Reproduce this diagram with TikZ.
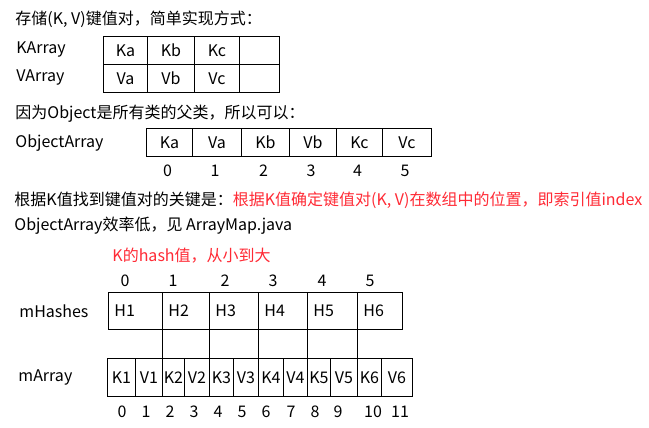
\documentclass[tikz,border=0pt]{standalone}
\usepackage{fontspec}
\setmainfont{Noto Sans CJK SC}
\usetikzlibrary{positioning}
\definecolor{noteRed}{HTML}{FF2A35}
\definecolor{textDark}{HTML}{000000}

\begin{document}
\begin{tikzpicture}[x=1pt, y=-1pt,
    line width=0.9pt,
    txt/.style={anchor=west, inner sep=0pt, font=\fontsize{16}{18}\selectfont\color{textDark}},
    note/.style={txt, text=noteRed},
    cell/.style={draw, anchor=north west, inner sep=0pt,
                 font=\fontsize{16}{18}\selectfont},
    hcell/.style={cell, inner xsep=6pt, align=left},
    idx/.style={inner sep=0pt, font=\fontsize{16}{18}\selectfont},
  ]
    \useasboundingbox (0,0) rectangle (649,428);

    % two parallel arrays
    \node[txt] (title) at (15,19) {存储(K, V)键值对，简单实现方式：};
    \node[txt] (klabel) at (16,50) {KArray};
    \node[txt] (vlabel) at (16,78) {VArray};
    \foreach \x/\w/\k/\v [count=\i] in {103/44/Ka/Va, 147/47/Kb/Vb, 194/45/Kc/Vc, 239/40//} {
      \node[cell, minimum width=\w, minimum height=28] (ka\i) at (\x,36) {\k};
      \node[cell, minimum width=\w, minimum height=28] (va\i) at (\x,64) {\v};
    }

    % one object array
    \node[txt] (why) at (15,114) {因为Object是所有类的父类，所以可以：};
    \node[txt] (olabel) at (15,143) {ObjectArray};
    \foreach \x/\w/\t [count=\i] in {146/46/Ka, 192/49/Va, 241/48/Kb, 289/47/Vb, 336/46/Kc, 382/49/Vc} {
      \node[cell, minimum width=\w, minimum height=28] (o\i) at (\x,128) {\t};
      \pgfmathtruncatemacro{\n}{\i-1}
      \node[idx] (oi\i) at ([xshift=-2pt, yshift=-14pt]o\i.south) {\n};
    }

    \node[txt] (key) at (14,200) {根据K值找到键值对的关键是：\textcolor{noteRed}{根据K值确定键值对(K, V)在数组中的位置，即索引值index}};
    \node[txt] (slow) at (14,226) {ObjectArray效率低，见 ArrayMap.java};
    \node[note] (order) at (112,256) {K的hash值，从小到大};

    % ArrayMap layout
    \node[txt] (hlabel) at (19,311) {mHashes};
    \node[txt] (mlabel) at (18,378) {mArray};
    \foreach \x/\w/\c [count=\i] in {108/54/125, 162/47/173, 209/49/225, 258/49/273, 307/50/322, 357/45/370} {
      \node[hcell, text width=\w-12, minimum height=37] (h\i) at (\x,292) {H\i};
      \pgfmathtruncatemacro{\n}{\i-1}
      \node[idx] (hi\i) at (\c,281) {\n};
    }
    \foreach \x/\w/\t/\c [count=\i] in {107/28/K1/122, 135/27/V1/146, 162/22/K2/170, 184/25/V2/194,
        209/24/K3/218, 233/25/V3/242, 258/25/K4/266, 283/24/V4/291,
        307/23/K5/315, 330/27/V5/338, 357/24/K6/373, 381/31/V6/400} {
      \node[cell, minimum width=\w, minimum height=38] (m\i) at (\x,358) {\t};
      \pgfmathtruncatemacro{\n}{\i-1}
      \node[idx] (mi\i) at (\c,412) {\n};
    }
    \foreach \i/\j in {2/3, 3/5, 4/7, 5/9, 6/11}
      \draw (h\i.south west) -- (m\j.north west);
  \end{tikzpicture}
\end{document}
